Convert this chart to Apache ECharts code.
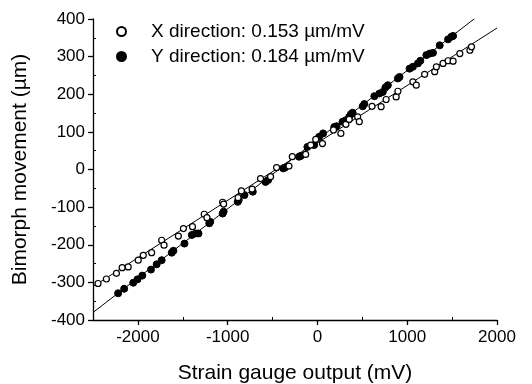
<!DOCTYPE html>
<html>
<head>
<meta charset="utf-8">
<script src="https://cdn.jsdelivr.net/npm/echarts@6/dist/echarts.min.js"></script>
<style>
html, body { margin: 0; padding: 0; background: #fff; }
#chart { width: 532px; height: 384px; }
</style>
</head>
<body>
<div id="chart"></div>
<script>
// strain gauge output (mV) vs bimorph movement (um)
const xDirX = [-2444, -2351, -2239, -2175, -2108, -1996, -1940, -1847, -1735, -1709, -1549, -1493, -1392, -1261, -1231, -1056, -1045, -884, -847, -728, -634, -522, -455, -317, -280, -131, -75, -19, 56, 179, 261, 317, 354, 448, 466, 608, 709, 765, 877, 896, 1063, 1101, 1194, 1306, 1325, 1399, 1455, 1511, 1586, 1698, 1716];
const xDirY = [-303, -291, -276, -261, -259, -241, -228, -221, -188, -201, -177, -157, -152, -119, -128, -87, -92, -75, -57, -52, -24, -19, 5, 9, 34, 40, 65, 80, 69, 105, 96, 120, 133, 140, 127, 168, 167, 186, 193, 208, 233, 224, 253, 260, 273, 282, 289, 288, 308, 317, 326];

const yDirX = [-2220, -2153, -2052, -2004, -1951, -1854, -1791, -1735, -1623, -1604, -1481, -1399, -1354, -1325, -1205, -1194, -1056, -1045, -888, -877, -813, -720, -578, -549, -381, -362, -205, -187, -112, -37, 19, 63, 187, 213, 280, 317, 354, 373, 392, 504, 522, 634, 690, 728, 757, 784, 896, 914, 1026, 1063, 1119, 1146, 1213, 1250, 1287, 1362, 1455, 1493, 1511];
const yDirY = [-329, -317, -301, -292, -282, -266, -252, -241, -221, -216, -197, -174, -170, -170, -143, -139, -117, -112, -86, -81, -68, -59, -33, -28, 3, 5, 34, 36, 60, 65, 87, 96, 113, 115, 127, 131, 140, 147, 151, 168, 174, 195, 202, 206, 218, 224, 242, 246, 268, 273, 282, 289, 304, 308, 310, 330, 346, 353, 355];

// fitted lines (end points)
const xFitX = [-2500, 2000];
const xFitY = [-311, 376];
const yFitX = [-2500, 1750];
const yFitY = [-380, 401];

const xMajorTicks = [-2000, -1000, 0, 1000, 2000];
const xMinorTicks = [-1500, -500, 500, 1500];
const yMinorTicks = [-350, -250, -150, -50, 50, 150, 250, 350];

const nameX = 'X direction: 0.153 µm/mV';
const nameY = 'Y direction: 0.184 µm/mV';

function pairs(xs, ys) {
  return xs.map((v, i) => [v, ys[i]]);
}

const font = '"Liberation Sans", Arial, sans-serif';
const chart = echarts.init(document.getElementById('chart'));

const option = {
  animation: false,
  backgroundColor: '#fff',
  textStyle: { fontFamily: font, color: '#000' },
  grid: { left: 93, right: 35, top: 19, bottom: 64, containLabel: false, outerBoundsMode: 'none' },
  legend: {
    data: [nameX, nameY],
    orient: 'vertical',
    left: 111,
    top: 17,
    itemWidth: 9,
    itemHeight: 9,
    itemGap: 6,
    formatter: name => '{t|' + name + '}',
    textStyle: {
      fontFamily: font,
      fontSize: 19,
      color: '#000',
      rich: { t: { fontFamily: font, fontSize: 19, color: '#000', padding: [0, 0, 0, 20] } }
    }
  },
  xAxis: [
    {
      type: 'value',
      min: -2500,
      max: 2000,
      splitLine: { show: false },
      axisLine: { show: true, onZero: false, lineStyle: { color: '#000', width: 1.3 } },
      axisTick: { customValues: xMajorTicks, length: 5, lineStyle: { color: '#000', width: 1.3 } },
      axisLabel: {
        customValues: xMajorTicks,
        fontSize: 17,
        color: '#000',
        margin: 9,
        fontFamily: font,
        formatter: v => String(v)
      },
      name: 'Strain gauge output (mV)',
      nameLocation: 'middle',
      nameGap: 43,
      nameTextStyle: { fontSize: 21, color: '#000', fontFamily: font }
    },
    {
      type: 'value',
      min: -2500,
      max: 2000,
      position: 'bottom',
      splitLine: { show: false },
      axisLine: { show: false, onZero: false },
      axisTick: { customValues: xMinorTicks, inside: true, length: 3, lineStyle: { color: '#000' } },
      axisLabel: { show: false }
    }
  ],
  yAxis: [
    {
      type: 'value',
      min: -400,
      max: 400,
      interval: 100,
      splitLine: { show: false },
      axisLine: { show: true, onZero: false, lineStyle: { color: '#000', width: 1.3 } },
      axisTick: { show: true, length: 5, lineStyle: { color: '#000', width: 1.3 } },
      axisLabel: { fontSize: 17, color: '#000', margin: 8, fontFamily: font },
      name: 'Bimorph movement (µm)',
      nameLocation: 'middle',
      nameGap: 62,
      nameTextStyle: { fontSize: 21, color: '#000', fontFamily: font }
    },
    {
      type: 'value',
      min: -400,
      max: 400,
      position: 'left',
      splitLine: { show: false },
      axisLine: { show: false, onZero: false },
      axisTick: { show: true, customValues: yMinorTicks, inside: true, length: 3, lineStyle: { color: '#000' } },
      axisLabel: { show: false }
    }
  ],
  series: [
    {
      name: 'fitX',
      type: 'line',
      data: pairs(xFitX, xFitY),
      symbol: 'none',
      lineStyle: { color: '#000', width: 1 },
      z: 1
    },
    {
      name: 'fitY',
      type: 'line',
      data: pairs(yFitX, yFitY),
      symbol: 'none',
      lineStyle: { color: '#000', width: 1 },
      z: 1
    },
    {
      name: nameY,
      type: 'scatter',
      data: pairs(yDirX, yDirY),
      symbol: 'circle',
      symbolSize: 7,
      itemStyle: { color: '#000', borderColor: '#000', borderWidth: 1, opacity: 1 },
      z: 3
    },
    {
      name: nameX,
      type: 'scatter',
      data: pairs(xDirX, xDirY),
      symbol: 'circle',
      symbolSize: 6,
      itemStyle: { color: '#fff', borderColor: '#000', borderWidth: 1.2, opacity: 1 },
      z: 4
    }
  ]
};

chart.setOption(option);
</script>
</body>
</html>
